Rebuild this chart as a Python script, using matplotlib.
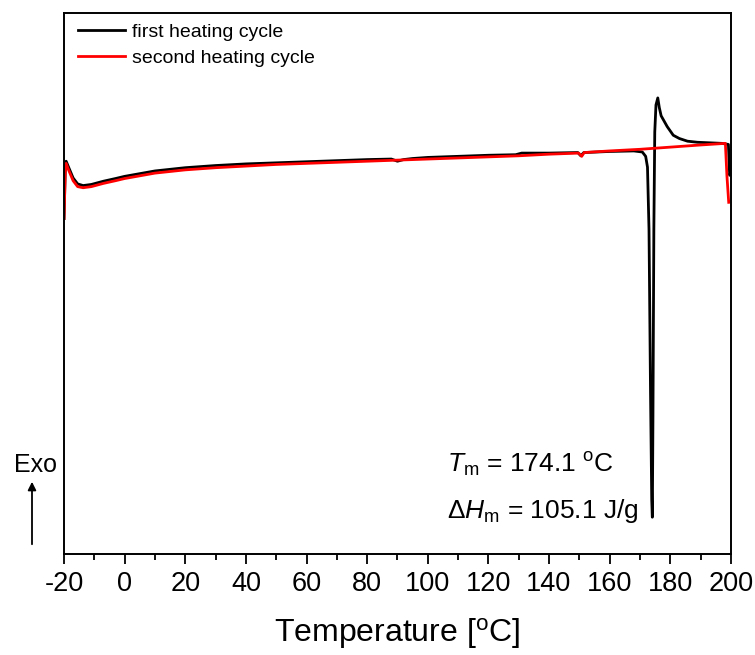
import matplotlib

matplotlib.use("Agg")

import matplotlib.pyplot as plt
import numpy as np

plt.rcParams["font.family"] = ["Liberation Sans", "DejaVu Sans"]
plt.rcParams["mathtext.fontset"] = "custom"
plt.rcParams["mathtext.rm"] = "Liberation Sans"
plt.rcParams["mathtext.it"] = "Liberation Sans:italic"
plt.rcParams["axes.unicode_minus"] = False

# first heating cycle (temperature in degC, heat flow in arbitrary units, exo up)
T_FIRST = [-20.0, -19.6, -19.3, -18.5, -17.0, -15.5, -13.7, -11.0, -7.0, -3.0, 0.0, 5.0,
           10.0, 20.0, 30.0, 40.0, 50.0, 60.0, 70.0, 80.0, 88.0, 90.0, 92.0, 95.0,
           100.0, 110.0, 120.0, 129.0, 131.0, 140.0, 149.5, 150.5, 151.5, 160.0,
           168.0, 170.8, 171.9, 172.5, 173.0, 173.5, 173.9, 174.1, 174.3, 174.6,
           174.9, 175.3, 175.9, 176.4, 177.0, 177.8, 179.0, 181.0, 183.0, 185.7,
           189.0, 193.0, 197.0, 199.2, 199.6, 200.0]
HF_FIRST = [62.0, 71.0, 72.6, 71.5, 69.5, 68.4, 68.1, 68.3, 68.9, 69.4, 69.8, 70.3,
            70.8, 71.4, 71.8, 72.1, 72.3, 72.5, 72.7, 72.9, 73.0, 72.6, 72.9, 73.1,
            73.3, 73.5, 73.7, 73.8, 74.1, 74.1, 74.2, 73.6, 74.2, 74.4,
            74.5, 74.3, 73.5, 71.5, 60.0, 30.0, 10.0, 6.8, 25.0, 60.0,
            78.0, 83.0, 84.3, 82.5, 81.0, 80.2, 79.0, 77.4, 76.8, 76.3,
            76.1, 76.0, 75.9, 75.7, 70.0, 70.5]

# second heating cycle
T_SECOND = [-20.0, -19.6, -19.3, -18.5, -17.0, -15.5, -13.7, -11.0, -7.0, -3.0, 0.0, 5.0,
            10.0, 20.0, 30.0, 40.0, 50.0, 60.0, 70.0, 80.0, 90.0, 100.0, 110.0, 120.0,
            130.0, 140.0, 149.8, 150.8, 151.6, 160.0, 170.0, 180.0, 190.0, 198.2,
            198.7, 199.3]
HF_SECOND = [62.0, 70.5, 72.2, 71.0, 69.0, 67.9, 67.7, 67.9, 68.5, 69.0, 69.4, 69.9,
             70.4, 71.0, 71.4, 71.7, 72.0, 72.2, 72.4, 72.6, 72.8, 73.0, 73.2, 73.4,
             73.6, 73.9, 74.1, 73.5, 74.2, 74.5, 74.8, 75.2, 75.6, 75.9,
             70.0, 65.0]

X_TICKS = np.arange(-20, 201, 20)


def main() -> None:
    fig = plt.figure(figsize=(7.55, 6.55), dpi=100)
    ax = fig.add_axes([0.0848, 0.1542, 0.8832, 0.8260])

    ax.plot(T_FIRST, HF_FIRST, color="black", linewidth=2.0, label="first heating cycle")
    ax.plot(T_SECOND, HF_SECOND, color="#ff0000", linewidth=2.0, label="second heating cycle")

    ax.set_xlim(-20, 200)
    ax.set_ylim(0, 100)
    ax.set_xticks(X_TICKS)
    ax.set_xticks(np.arange(-10, 200, 20), minor=True)
    ax.set_yticks([])
    ax.tick_params(axis="x", which="major", direction="out", length=7, width=1.3,
                   labelsize=19.5, pad=5)
    ax.tick_params(axis="x", which="minor", direction="out", length=4, width=1.3)
    for spine in ax.spines.values():
        spine.set_linewidth(1.4)

    ax.set_xlabel(r"Temperature [$^\mathrm{o}$C]", fontsize=23, labelpad=14)

    ax.legend(loc="upper left", frameon=False, fontsize=14, handlelength=2.4,
              handletextpad=0.35, borderaxespad=0.15, borderpad=0.4, labelspacing=0.4,
              bbox_to_anchor=(0.005, 1.0))

    ax.text(0.574, 0.165, r"$T_\mathrm{m}$ = 174.1 $^\mathrm{o}$C", transform=ax.transAxes,
            fontsize=19, ha="left", va="center")
    ax.text(0.574, 0.080, r"$\Delta H_\mathrm{m}$ = 105.1 J/g", transform=ax.transAxes,
            fontsize=19, ha="left", va="center")

    fig.text(36 / 755, 1 - 465 / 655, "Exo", fontsize=18, ha="center", va="center")
    fig.add_artist(matplotlib.patches.FancyArrowPatch(
        (32 / 755, 1 - 547 / 655), (32 / 755, 1 - 479 / 655), transform=fig.transFigure,
        arrowstyle="-|>", mutation_scale=12, linewidth=1.3, color="black"))

    fig.savefig("out.png", dpi=100)
    plt.close(fig)


if __name__ == "__main__":
    main()
